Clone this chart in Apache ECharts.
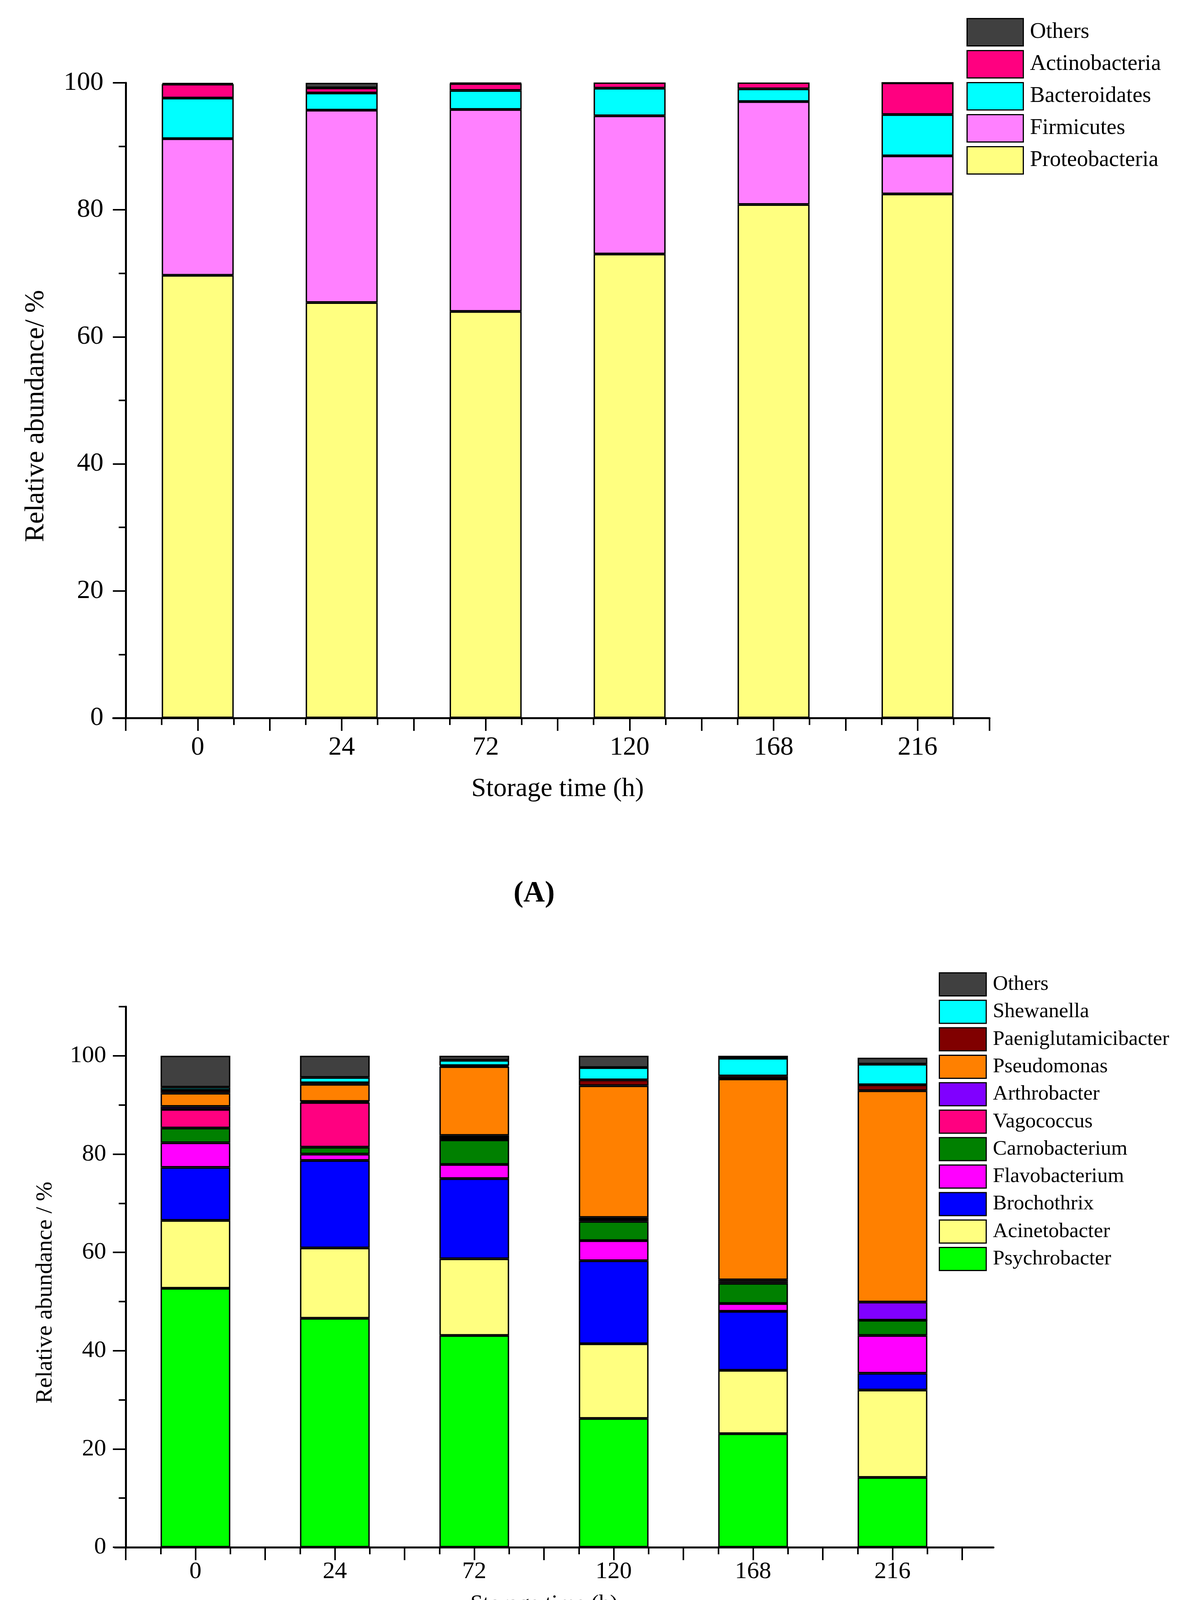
<!DOCTYPE html>
<html>
<head>
<meta charset="utf-8">
<script src="https://cdn.jsdelivr.net/npm/echarts@6/dist/echarts.min.js"></script>
<style>
  html, body { margin: 0; padding: 0; background: #fff; }
  #main { width: 3032px; height: 4444px; }
</style>
</head>
<body>
<div id="main"></div>
<script>
// storage time categories (h)
var timeLabels = ['0', '24', '72', '120', '168', '216'];

// (A) phylum level, bottom to top
var phylumNames = ['Proteobacteria', 'Firmicutes', 'Bacteroidates', 'Actinobacteria', 'Others'];
var proteobacteria = [69.7, 65.4, 64.0, 73.05, 80.85, 82.5];
var firmicutes = [21.5, 30.3, 31.8, 21.75, 16.2, 6.0];
var bacteroidates = [6.4, 2.7, 3.0, 4.35, 2.0, 6.5];
var actinobacteria = [2.2, 0.8, 1.1, 0.9, 1.0, 5.0];
var phylumOthers = [0.2, 0.8, 0.1, 0, 0, 0];
var phylumColors = ['#ffff80', '#ff80ff', '#00ffff', '#ff0080', '#404040'];

// (B) genus level, bottom to top
var genusNames = ['Psychrobacter', 'Acinetobacter', 'Brochothrix', 'Flavobacterium', 'Carnobacterium',
  'Vagococcus', 'Arthrobacter', 'Pseudomonas', 'Paeniglutamicibacter', 'Shewanella', 'Others'];
var psychrobacter = [52.7, 46.6, 43.1, 26.2, 23.1, 14.2];
var acinetobacter = [13.8, 14.3, 15.6, 15.2, 12.9, 17.8];
var brochothrix = [10.8, 17.8, 16.3, 16.9, 12.0, 3.4];
var flavobacterium = [5.0, 1.3, 2.9, 4.1, 1.6, 7.7];
var carnobacterium = [3.0, 1.4, 5.0, 3.9, 4.1, 3.1];
var vagococcus = [3.8, 9.1, 0.4, 0.3, 0.3, 0];
var arthrobacter = [0.6, 0.2, 0.5, 0.5, 0.4, 3.7];
var pseudomonas = [2.7, 3.5, 14.0, 26.8, 40.9, 43.0];
var paeniglutamicibacter = [0.6, 0.3, 0.2, 1.2, 0.6, 1.2];
var shewanella = [0.6, 1.1, 1.1, 2.5, 3.6, 4.2];
var genusOthers = [6.4, 4.4, 0.9, 2.4, 0.5, 1.3];
var genusColors = ['#00ff00', '#ffff80', '#0000ff', '#ff00ff', '#008000',
  '#ff0080', '#8000ff', '#ff8000', '#800000', '#00ffff', '#404040'];

var phylumData = [proteobacteria, firmicutes, bacteroidates, actinobacteria, phylumOthers];
var genusData = [psychrobacter, acinetobacter, brochothrix, flavobacterium, carnobacterium,
  vagococcus, arthrobacter, pseudomonas, paeniglutamicibacter, shewanella, genusOthers];

var FONT = '"Liberation Serif", "Times New Roman", serif';

var myChart = echarts.init(document.getElementById('main'), null, { renderer: 'canvas' });

function makeSeries(names, data, colors, axisIdx, stack) {
  var out = [];
  for (var i = 0; i < names.length; i++) {
    out.push({
      name: names[i],
      type: 'bar',
      stack: stack,
      xAxisIndex: axisIdx,
      yAxisIndex: axisIdx,
      barWidth: '50%',
      itemStyle: { color: colors[i], borderColor: '#000', borderWidth: 3.5 },
      data: data[i]
    });
  }
  return out;
}

function tickAxis(grid, len) {
  // value axis only used to draw the tick pattern of the original
  return {
    type: 'value', gridIndex: grid, position: 'bottom', min: -0.5, max: 5.5, interval: 0.5,
    axisLine: { show: false, onZero: false },
    axisTick: { show: true, inside: false, length: len, lineStyle: { color: '#000', width: 4 } },
    minorTick: { show: true, splitNumber: 2, length: 18, lineStyle: { color: '#000', width: 4 } },
    axisLabel: { show: false }, splitLine: { show: false }
  };
}

function lineAxis(grid) {
  return {
    type: 'value', gridIndex: grid, position: 'bottom', min: 0, max: 1,
    axisLine: { show: true, onZero: false, lineStyle: { color: '#000', width: 5 } },
    axisTick: { show: false }, axisLabel: { show: false }, splitLine: { show: false }
  };
}

function hiddenAxis(grid, max) {
  return { type: 'value', gridIndex: grid, min: 0, max: max, show: false };
}

option = {
  backgroundColor: '#fff',
  animation: false,
  title: [{
    text: '{p|(}{b|A}{p|)}', left: 1310, top: 2245,
    textStyle: { rich: {
      p: { fontFamily: FONT, fontSize: 76, color: '#000' },
      b: { fontFamily: FONT, fontSize: 76, fontWeight: 'bold', color: '#000' } } }
  }, {
    text: '{p|(}{b|B}{p|)}', left: 1306, top: 4314,
    textStyle: { rich: {
      p: { fontFamily: FONT, fontSize: 76, color: '#000' },
      b: { fontFamily: FONT, fontSize: 76, fontWeight: 'bold', color: '#000' } } }
  }],
  legend: [{
    orient: 'vertical', left: 2470, top: 41,
    itemWidth: 144, itemHeight: 70, itemGap: 9,
    icon: 'rect',
    selectedMode: false,
    itemStyle: { borderColor: '#000', borderWidth: 3 },
    textStyle: { fontFamily: FONT, fontSize: 57, color: '#000', padding: [0, 0, 0, 12] },
    data: phylumNames.slice().reverse()
  }, {
    orient: 'vertical', left: 2399, top: 2484,
    itemWidth: 120, itemHeight: 59, itemGap: 8.3,
    icon: 'rect',
    selectedMode: false,
    itemStyle: { borderColor: '#000', borderWidth: 3 },
    textStyle: { fontFamily: FONT, fontSize: 53.5, color: '#000', padding: [0, 0, 0, 12] },
    data: genusNames.slice().reverse()
  }],
  grid: [
    { left: 322, top: 212, width: 2212, height: 1626 },       // A data
    { left: 290, top: 212, width: 2244, height: 1626 },       // A x-axis line
    { left: 322, top: 2577, width: 2142, height: 1384 },      // B data
    { left: 294, top: 2577, width: 2250, height: 1384 },      // B x-axis line
    { left: 322, top: 2702.8, width: 2142, height: 1258.2 }   // B major y ticks (0-100)
  ],
  xAxis: [
    {
      type: 'category', gridIndex: 0, position: 'bottom', data: timeLabels,
      axisLine: { show: false, onZero: false }, axisTick: { show: false },
      axisLabel: { fontFamily: FONT, fontSize: 68, color: '#000', margin: 42 },
      name: 'Storage time (h)', nameLocation: 'middle', nameGap: 148,
      nameTextStyle: { fontFamily: FONT, fontSize: 68, color: '#000' }
    },
    {
      type: 'category', gridIndex: 2, position: 'bottom', data: timeLabels,
      axisLine: { show: false, onZero: false }, axisTick: { show: false },
      axisLabel: { fontFamily: FONT, fontSize: 62, color: '#000', margin: 32 },
      name: 'Storage time (h)', nameLocation: 'middle', nameGap: 117,
      nameTextStyle: { fontFamily: FONT, fontSize: 58, color: '#000' }
    },
    tickAxis(0, 33),
    lineAxis(1),
    tickAxis(2, 33),
    lineAxis(3),
    hiddenAxis(4, 1)
  ],
  yAxis: [
    {
      type: 'value', gridIndex: 0, position: 'left', min: 0, max: 100, interval: 20,
      axisLine: { show: true, onZero: false, lineStyle: { color: '#000', width: 5 } },
      axisTick: { show: true, length: 33, lineStyle: { color: '#000', width: 4 } },
      minorTick: { show: true, splitNumber: 2, length: 18, lineStyle: { color: '#000', width: 4 } },
      splitLine: { show: false },
      axisLabel: { fontFamily: FONT, fontSize: 68, color: '#000', margin: 57 },
      name: 'Relative abundance/ %', nameLocation: 'middle', nameGap: 194,
      nameTextStyle: { fontFamily: FONT, fontSize: 70, color: '#000', padding: [0, 80, 0, 0] }
    },
    {
      type: 'value', gridIndex: 2, position: 'left', min: 0, max: 110, interval: 10,
      axisLine: { show: true, onZero: false, lineStyle: { color: '#000', width: 5 } },
      axisTick: { show: true, length: 18, lineStyle: { color: '#000', width: 4 } },
      splitLine: { show: false },
      axisLabel: {
        fontFamily: FONT, fontSize: 62, color: '#000', margin: 50,
        formatter: function (v) { return (v % 20 === 0 && v <= 100) ? String(v) : ''; }
      },
      name: 'Relative abundance / %', nameLocation: 'middle', nameGap: 176,
      nameTextStyle: { fontFamily: FONT, fontSize: 60, color: '#000', padding: [0, 80, 0, 0] }
    },
    hiddenAxis(0, 1),
    hiddenAxis(1, 1),
    hiddenAxis(2, 1),
    hiddenAxis(3, 1),
    {
      type: 'value', gridIndex: 4, position: 'left', min: 0, max: 100, interval: 20,
      axisLine: { show: false, onZero: false },
      axisTick: { show: true, length: 33, lineStyle: { color: '#000', width: 4 } },
      axisLabel: { show: false }, splitLine: { show: false }
    }
  ],
  series: makeSeries(phylumNames, phylumData, phylumColors, 0, 'phylum')
    .concat(makeSeries(genusNames, genusData, genusColors, 1, 'genus'))
};

myChart.setOption(option);
</script>
</body>
</html>
